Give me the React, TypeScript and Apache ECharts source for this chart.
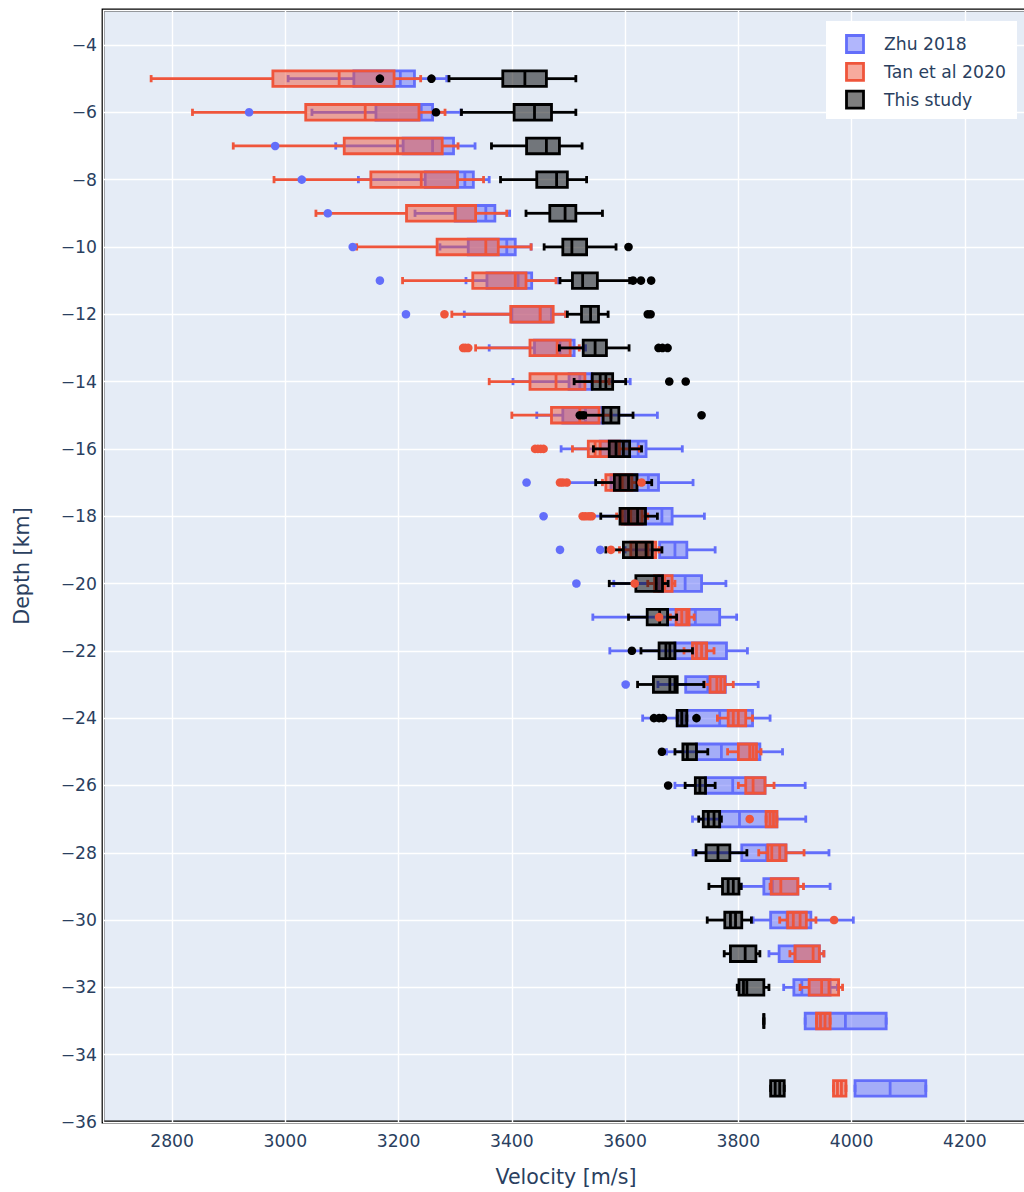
import React, { useEffect, useRef } from "react";
import * as echarts from "echarts";

// Depth levels (km) at which velocity distributions are summarised
const depths = [
  -5, -6, -7, -8, -9, -10, -11, -12, -13, -14, -15, -16, -17, -18, -19, -20,
  -21, -22, -23, -24, -25, -26, -27, -28, -29, -30, -31, -32, -33, -35,
];

// Box statistics per depth: [lower whisker, q1, median, q3, upper whisker] (m/s)
const zhuStats = [
  [3005, 3121, 3203, 3228, 3285], [3047, 3160, 3240, 3260, 3310], [3089, 3208, 3260, 3297, 3335],
  [3129, 3247, 3317, 3332, 3360], [3229, 3300, 3354, 3370, 3396], [3273, 3323, 3391, 3406, 3434],
  [3319, 3356, 3411, 3435, 3482], [3316, 3400, 3450, 3470, 3495], [3360, 3440, 3485, 3510, 3530],
  [3402, 3501, 3520, 3541, 3609], [3444, 3490, 3530, 3561, 3657], [3487, 3556, 3623, 3637, 3701],
  [3499, 3575, 3641, 3659, 3720], [3540, 3600, 3665, 3683, 3740], [3600, 3661, 3688, 3709, 3759],
  [3580, 3660, 3706, 3735, 3778], [3543, 3675, 3724, 3767, 3797], [3573, 3688, 3744, 3779, 3816],
  [3658, 3707, 3746, 3777, 3835], [3631, 3692, 3767, 3825, 3856], [3673, 3726, 3770, 3838, 3878],
  [3688, 3742, 3790, 3847, 3918], [3719, 3767, 3802, 3868, 3919], [3720, 3806, 3850, 3884, 3960],
  [3805, 3845, 3860, 3905, 3962], [3826, 3857, 3886, 3928, 4003], [3854, 3872, 3900, 3943, 3951],
  [3880, 3898, 3912, 3962, 3975], [3918, 3918, 3989, 4061, 4061], [4006, 4006, 4068, 4131, 4131],
];
const tanStats = [
  [2763, 2978, 3095, 3192, 3239], [2836, 3036, 3141, 3236, 3282], [2908, 3104, 3198, 3277, 3305],
  [2980, 3151, 3240, 3304, 3350], [3054, 3214, 3300, 3336, 3391], [3126, 3268, 3354, 3376, 3434],
  [3207, 3331, 3406, 3425, 3478], [3294, 3398, 3450, 3473, 3495], [3336, 3432, 3480, 3503, 3519],
  [3360, 3432, 3478, 3529, 3572], [3400, 3470, 3520, 3554, 3575], [3507, 3535, 3547, 3590, 3625],
  [3560, 3566, 3595, 3612, 3622], [3585, 3595, 3610, 3630, 3640], [3590, 3610, 3640, 3654, 3660],
  [3640, 3652, 3670, 3683, 3688], [3680, 3690, 3700, 3713, 3722], [3704, 3719, 3726, 3744, 3757],
  [3740, 3750, 3762, 3776, 3791], [3763, 3782, 3791, 3813, 3825], [3781, 3800, 3820, 3832, 3840],
  [3800, 3813, 3826, 3847, 3863], [3849, 3849, 3856, 3868, 3868], [3836, 3852, 3859, 3884, 3916],
  [3856, 3858, 3875, 3905, 3915], [3873, 3887, 3897, 3920, 3937], [3891, 3900, 3932, 3943, 3951],
  [3909, 3925, 3947, 3977, 3984], [3938, 3938, 3945, 3962, 3962], [3968, 3968, 3975, 3990, 3990],
];
const studyStats = [
  [3289, 3384, 3423, 3461, 3513], [3311, 3404, 3440, 3470, 3513], [3364, 3426, 3461, 3484, 3524],
  [3380, 3444, 3479, 3498, 3532], [3425, 3467, 3494, 3513, 3560], [3457, 3490, 3506, 3532, 3584],
  [3485, 3507, 3525, 3551, 3608], [3498, 3523, 3539, 3553, 3570], [3484, 3526, 3547, 3567, 3607],
  [3510, 3542, 3556, 3578, 3601], [3530, 3561, 3575, 3589, 3614], [3544, 3572, 3584, 3608, 3629],
  [3548, 3581, 3591, 3621, 3647], [3557, 3591, 3606, 3636, 3657], [3566, 3597, 3620, 3648, 3665],
  [3572, 3619, 3655, 3666, 3676], [3606, 3639, 3661, 3675, 3691], [3628, 3660, 3672, 3688, 3719],
  [3622, 3650, 3679, 3692, 3739], [3692, 3692, 3700, 3709, 3709], [3688, 3702, 3710, 3726, 3746],
  [3706, 3724, 3732, 3742, 3759], [3730, 3738, 3747, 3767, 3770], [3725, 3743, 3764, 3785, 3815],
  [3748, 3772, 3782, 3801, 3805], [3745, 3776, 3786, 3806, 3823], [3775, 3786, 3812, 3831, 3838],
  [3798, 3801, 3809, 3845, 3854], [3845, 3845, 3845, 3845, 3845], [3857, 3857, 3865, 3881, 3881],
];

// Mean velocity per depth (null where it is not marked)
const zhuMeans: (number | null)[] = depths.map(() => null);
const tanMeans: (number | null)[] = [
  null, null, null, null, null, null, null, null, null, null, null, 3556, null, null, null, null,
  3709, 3735, 3769, 3800, 3826, null, 3862, 3873, null, 3909, null, 3960, 3953, 3982,
];
const studyMeans: (number | null)[] = [
  null, null, null, null, null, null, null, null, null, 3566, null, 3597, 3606, 3622, 3637, null,
  null, 3679, 3688, null, null, null, 3757, null, 3791, 3795, null, 3815, null, 3873,
];

// Outliers: [velocity, depth]
const zhuOutliers = [
  [2936, -6], [2982, -7], [3029, -8], [3075, -9], [3119, -10], [3167, -11], [3213, -12],
  [3426, -17], [3456, -18], [3485, -19], [3556, -19], [3514, -20], [3601, -23],
];
const tanOutliers = [
  [3281, -12], [3314, -13], [3318, -13], [3323, -13], [3441, -16], [3446, -16], [3451, -16],
  [3456, -16], [3485, -17], [3490, -17], [3497, -17], [3629, -17], [3525, -18], [3530, -18],
  [3536, -18], [3541, -18], [3575, -19], [3617, -20], [3660, -21], [3820, -27], [3969, -30],
];
const studyOutliers = [
  [3167, -5], [3258, -5], [3266, -6], [3606, -10], [3614, -11], [3628, -11], [3646, -11],
  [3640, -12], [3645, -12], [3659, -13], [3666, -13], [3675, -13], [3678, -14], [3707, -14],
  [3520, -15], [3526, -15], [3735, -15], [3612, -22], [3651, -24], [3660, -24], [3667, -24],
  [3726, -24], [3665, -25], [3676, -26],
];

const seriesNames = ["Zhu 2018", "Tan et al 2020", "This study"];
const lineColors = ["#636EFA", "#EF553B", "#000000"];
const fillColors = ["rgba(99,110,250,0.5)", "rgba(239,85,59,0.5)", "rgba(0,0,0,0.5)"];

const FONT = '"DejaVu Sans", Verdana, sans-serif';
const INK = "#2a3f5f";
const LW = 2.8;
const HALF_BOX = 7.8;
const HALF_CAP = 3.6;

function boxRenderer(means: (number | null)[], stroke: string, fill: string) {
  return (params: any, api: any) => {
    const d = api.value(0);
    const lo = api.coord([api.value(1), d]);
    const q1 = api.coord([api.value(2), d]);
    const md = api.coord([api.value(3), d]);
    const q3 = api.coord([api.value(4), d]);
    const hi = api.coord([api.value(5), d]);
    const y = lo[1];
    const seg = (x1: number, y1: number, x2: number, y2: number) => ({
      type: "line",
      shape: { x1, y1, x2, y2 },
      style: { stroke, lineWidth: LW, fill: null },
    });
    const children: any[] = [
      seg(lo[0], y, q1[0], y),
      seg(q3[0], y, hi[0], y),
      seg(lo[0], y - HALF_CAP, lo[0], y + HALF_CAP),
      seg(hi[0], y - HALF_CAP, hi[0], y + HALF_CAP),
      {
        type: "rect",
        shape: { x: q1[0], y: y - HALF_BOX, width: q3[0] - q1[0], height: 2 * HALF_BOX },
        style: { fill, stroke, lineWidth: LW },
      },
      seg(md[0], y - HALF_BOX, md[0], y + HALF_BOX),
    ];
    const m = means[params.dataIndex];
    if (m != null) {
      const mc = api.coord([m, d]);
      children.push(seg(mc[0], y - HALF_BOX, mc[0], y + HALF_BOX));
    }
    return { type: "group", children };
  };
}

function buildOption() {
  const statsList = [zhuStats, tanStats, studyStats];
  const meansList = [zhuMeans, tanMeans, studyMeans];
  const outlierList = [zhuOutliers, tanOutliers, studyOutliers];

  const series: any[] = [];
  statsList.forEach((stats, k) => {
    series.push({
      type: "custom",
      name: seriesNames[k],
      data: depths.map((d, i) => [d, ...stats[i]]),
      encode: { x: [1, 2, 3, 4, 5], y: 0 },
      renderItem: boxRenderer(meansList[k], lineColors[k], fillColors[k]),
      clip: true,
    });
    series.push({
      type: "scatter",
      name: seriesNames[k] + " outliers",
      data: outlierList[k],
      symbol: "circle",
      symbolSize: 8.6,
      itemStyle: { color: lineColors[k], opacity: 1 },
    });
  });

  const legendItems: any[] = [
    { type: "rect", z: 100, shape: { x: 826, y: 21, width: 191, height: 98 }, style: { fill: "#ffffff" } },
  ];
  seriesNames.forEach((name, k) => {
    const cy = 44 + k * 27.8;
    legendItems.push({
      type: "rect",
      z: 101,
      shape: { x: 846.5, y: cy - 8.5, width: 17, height: 17 },
      style: { fill: fillColors[k], stroke: lineColors[k], lineWidth: LW },
    });
    legendItems.push({
      type: "text",
      z: 101,
      x: 884,
      y: cy,
      style: { text: name, font: `17.2px ${FONT}`, fill: INK, align: "left", verticalAlign: "middle" },
    });
  });

  return {
    animation: false,
    backgroundColor: "#ffffff",
    textStyle: { fontFamily: FONT },
    grid: {
      left: 103,
      top: 10,
      width: 927,
      height: 1112,
      outerBoundsMode: "none",
      containLabel: false,
      show: true,
      backgroundColor: "#E5ECF6",
      borderColor: "#000000",
      borderWidth: LW,
    },
    xAxis: {
      type: "value",
      min: 2678,
      max: 4315,
      minInterval: 200,
      maxInterval: 200,
      axisLine: { show: false },
      axisTick: { show: false },
      splitLine: { show: true, lineStyle: { color: "#ffffff", width: 1.4 } },
      axisLabel: {
        margin: 10,
        fontSize: 17.2,
        fontFamily: FONT,
        color: INK,
        showMinLabel: true,
        showMaxLabel: true,
        formatter: (v: number) => (Math.abs(v % 200) < 1e-6 ? String(Math.round(v)) : ""),
      },
    },
    yAxis: {
      type: "value",
      min: -36,
      max: -2.96,
      minInterval: 2,
      maxInterval: 2,
      axisLine: { show: false },
      axisTick: { show: false },
      splitLine: { show: true, lineStyle: { color: "#ffffff", width: 1.4 } },
      axisLabel: {
        margin: 6,
        fontSize: 17.2,
        fontFamily: FONT,
        color: INK,
        showMinLabel: true,
        showMaxLabel: true,
        formatter: (v: number) => {
          const r = Math.round(v);
          if (Math.abs(v - r) > 1e-6 || r % 2 !== 0) return "";
          return r < 0 ? "\u2212" + Math.abs(r) : String(r);
        },
      },
    },
    graphic: [
      {
        type: "text",
        x: 22,
        y: 566,
        rotation: Math.PI / 2,
        style: { text: "Depth [km]", font: `20.6px ${FONT}`, fill: INK, align: "center", verticalAlign: "middle" },
      },
      {
        type: "text",
        x: 566,
        y: 1177,
        style: { text: "Velocity [m/s]", font: `20.6px ${FONT}`, fill: INK, align: "center", verticalAlign: "middle" },
      },
      { type: "group", z: 100, children: legendItems },
    ],
    series,
  };
}

export default function App() {
  const ref = useRef<HTMLDivElement>(null);
  useEffect(() => {
    const chart = echarts.init(ref.current!, null, { renderer: "svg" });
    chart.setOption(buildOption() as any);
    return () => chart.dispose();
  }, []);
  return (
    <div
      ref={ref}
      style={{ position: "absolute", left: 0, top: 0, width: 1024, height: 1192 }}
    />
  );
}
